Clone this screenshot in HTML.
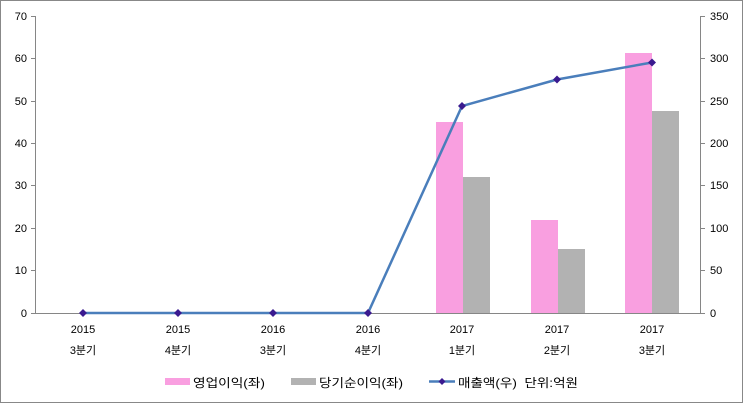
<!DOCTYPE html>
<html><head><meta charset="utf-8"><style>
body{margin:0;background:#fff}
text{font-family:"Liberation Sans","Noto Sans CJK KR",sans-serif;font-size:11px;fill:#000}
.lg{font-size:12px}
</style></head><body>
<svg width="743" height="403" viewBox="0 0 743 403">
<rect x="0.5" y="0.5" width="742" height="402" fill="#fff" stroke="#888"/>
<g stroke="#868686" stroke-width="1">
<line x1="35.5" y1="16" x2="35.5" y2="313"/>
<line x1="700.5" y1="16" x2="700.5" y2="313"/>
<line x1="35" y1="313.5" x2="700" y2="313.5"/>
</g>
<g stroke="#868686">
<line x1="31" y1="16.5" x2="35" y2="16.5"/><line x1="31" y1="58.5" x2="35" y2="58.5"/>
<line x1="31" y1="101.5" x2="35" y2="101.5"/><line x1="31" y1="143.5" x2="35" y2="143.5"/>
<line x1="31" y1="185.5" x2="35" y2="185.5"/><line x1="31" y1="228.5" x2="35" y2="228.5"/>
<line x1="31" y1="270.5" x2="35" y2="270.5"/><line x1="31" y1="313.5" x2="35" y2="313.5"/>
<line x1="700" y1="16.5" x2="705" y2="16.5"/><line x1="700" y1="58.5" x2="705" y2="58.5"/>
<line x1="700" y1="101.5" x2="705" y2="101.5"/><line x1="700" y1="143.5" x2="705" y2="143.5"/>
<line x1="700" y1="185.5" x2="705" y2="185.5"/><line x1="700" y1="228.5" x2="705" y2="228.5"/>
<line x1="700" y1="270.5" x2="705" y2="270.5"/><line x1="700" y1="313.5" x2="705" y2="313.5"/>
</g>
<g text-anchor="end">
<text x="27" y="20">70</text><text x="27" y="62">60</text><text x="27" y="105">50</text>
<text x="27" y="147">40</text><text x="27" y="189">30</text><text x="27" y="232">20</text>
<text x="27" y="274">10</text><text x="27" y="317">0</text>
</g>
<g>
<text x="710" y="20">350</text><text x="710" y="62">300</text><text x="710" y="105">250</text>
<text x="710" y="147">200</text><text x="710" y="189">150</text><text x="710" y="232">100</text>
<text x="710" y="274">50</text><text x="710" y="317">0</text>
</g>
<g fill="#f99fe0">
<rect x="436" y="122" width="27" height="191"/>
<rect x="531" y="220" width="27" height="93"/>
<rect x="625" y="53" width="27" height="260"/>
</g>
<g fill="#b2b2b2">
<rect x="463" y="177" width="27" height="136"/>
<rect x="558" y="249" width="27" height="64"/>
<rect x="652" y="111" width="27" height="202"/>
</g>
<polyline points="83,313 178,313 273,313 368,313 462,106 557,79.5 652,62.5" fill="none" stroke="#4a7ebb" stroke-width="2.5"/>
<g fill="#3a1a8f">
<path d="M83,309 l4,4 -4,4 -4,-4z"/><path d="M178,309 l4,4 -4,4 -4,-4z"/>
<path d="M273,309 l4,4 -4,4 -4,-4z"/><path d="M368,309 l4,4 -4,4 -4,-4z"/>
<path d="M462,102 l4,4 -4,4 -4,-4z"/><path d="M557,75.5 l4,4 -4,4 -4,-4z"/>
<path d="M652,58.5 l4,4 -4,4 -4,-4z"/>
</g>
<g text-anchor="middle">
<text x="83" y="333">2015</text><text x="83" y="354">3분기</text>
<text x="178" y="333">2015</text><text x="178" y="354">4분기</text>
<text x="273" y="333">2016</text><text x="273" y="354">3분기</text>
<text x="368" y="333">2016</text><text x="368" y="354">4분기</text>
<text x="462" y="333">2017</text><text x="462" y="354">1분기</text>
<text x="557" y="333">2017</text><text x="557" y="354">2분기</text>
<text x="652" y="333">2017</text><text x="652" y="354">3분기</text>
</g>
<rect x="165" y="378" width="25" height="7" fill="#f99fe0"/>
<text class="lg" x="193" y="387" textLength="72" lengthAdjust="spacingAndGlyphs">영업이익(좌)</text>
<rect x="291" y="378" width="25" height="7" fill="#b2b2b2"/>
<text class="lg" x="319" y="387" textLength="84" lengthAdjust="spacingAndGlyphs">당기순이익(좌)</text>
<line x1="429" y1="381.5" x2="455" y2="381.5" stroke="#4a7ebb" stroke-width="2.5"/>
<path d="M442,378 l3.5,3.5 -3.5,3.5 -3.5,-3.5z" fill="#3a1a8f"/>
<text class="lg" x="458" y="387" textLength="120" lengthAdjust="spacingAndGlyphs">매출액(우)&#160; 단위:억원</text>
</svg>
</body></html>
